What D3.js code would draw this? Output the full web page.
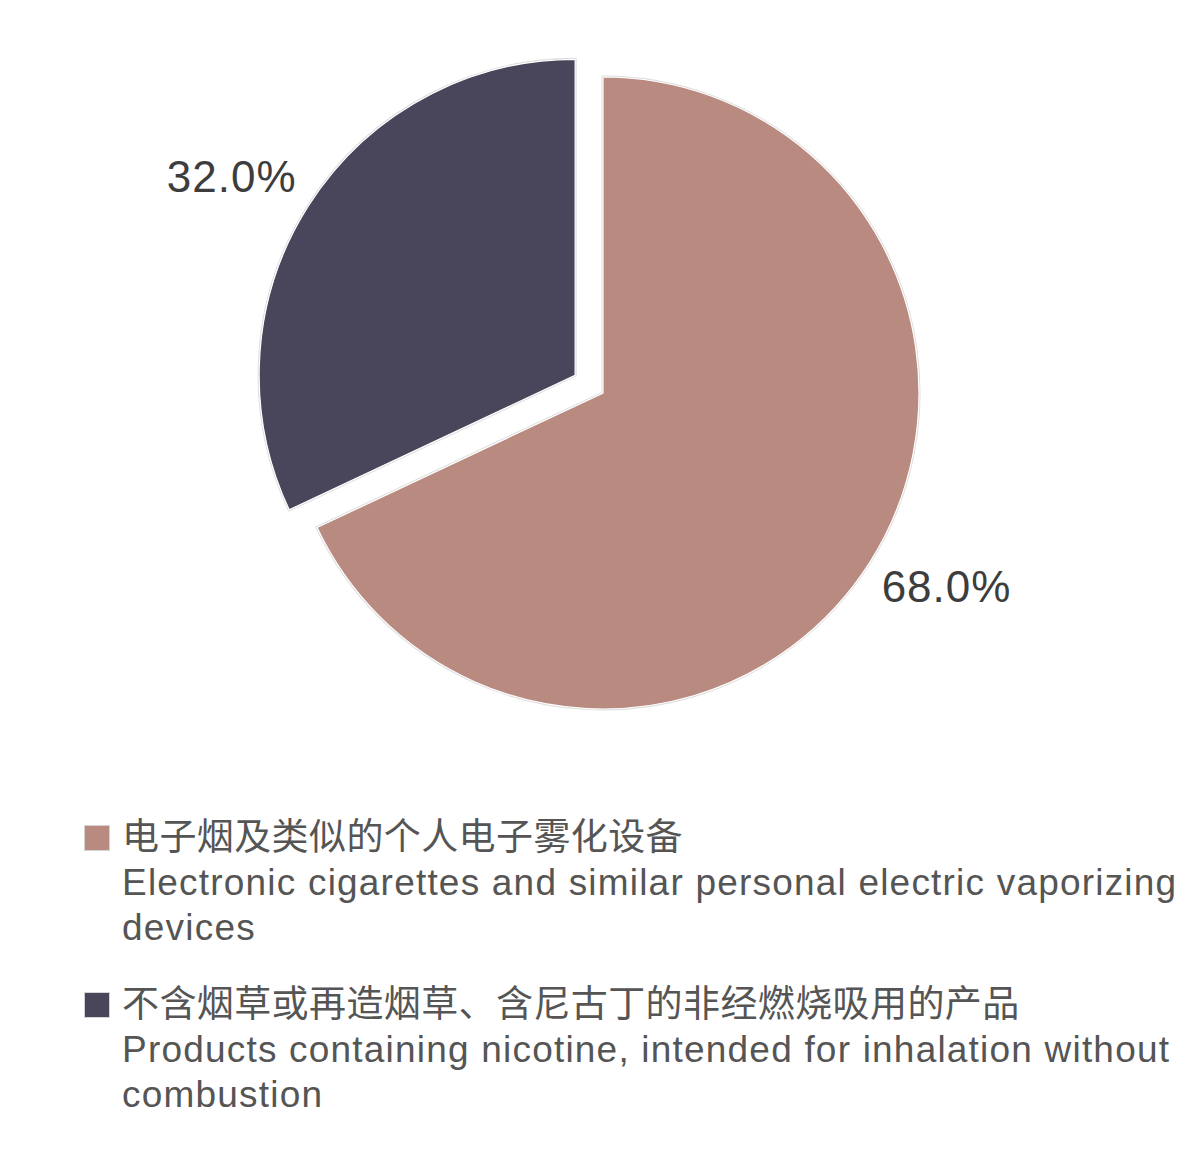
<!DOCTYPE html>
<html>
<head>
<meta charset="utf-8">
<script src="https://cdn.jsdelivr.net/npm/d3@7"></script>
<style>
  html, body { margin: 0; padding: 0; background: #fff; }
  svg text { font-family: "Liberation Sans", "Noto Sans CJK SC", sans-serif; }
</style>
</head>
<body>
<div id="pie-chart"></div>
<script>
// Share of product types (pie, one slice pulled out)
const categories = ["电子烟及类似的个人电子雾化设备", "不含烟草或再造烟草、含尼古丁的非经燃烧吸用的产品"];
const englishLines = [
    ["Electronic cigarettes and similar personal electric vaporizing", "devices"],
    ["Products containing nicotine, intended for inhalation without", "combustion"]
];
const shares = [68.0, 32.0];
const explode = [0, 33];
const colors = ["#b98a80", "#49465c"];

const width = 1200, height = 1168;
const cx = 603, cy = 393, radius = 316;

const svg = d3.select("#pie-chart")
    .append("svg")
    .attr("width", width)
    .attr("height", height);

const data = shares.map((v, i) => ({name: categories[i], value: v, i: i}));

const pie = d3.pie()
    .sort(null)
    .value(d => d.value);

const arcs = pie(data);

const arc = d3.arc()
    .innerRadius(0)
    .outerRadius(radius);

// the slices
const slices = svg.append("g")
    .attr("transform", `translate(${cx},${cy})`)
    .selectAll("g")
    .data(arcs)
    .join("g")
    .attr("transform", d => {
        const mid = (d.startAngle + d.endAngle) / 2;
        const off = explode[d.data.i];
        return `translate(${Math.sin(mid) * off},${-Math.cos(mid) * off})`;
    });

slices.append("path")
    .attr("d", arc)
    .attr("fill", "none")
    .attr("stroke", "#dcdcdc")
    .attr("stroke-width", 3);

slices.append("path")
    .attr("d", arc)
    .attr("fill", d => colors[d.data.i])
    .attr("stroke", "#fff")
    .attr("stroke-width", 1.2);

// percentage labels outside the pie
const labelR = 330;
slices.append("text")
    .attr("x", d => Math.sin((d.startAngle + d.endAngle) / 2) * labelR)
    .attr("y", d => -Math.cos((d.startAngle + d.endAngle) / 2) * labelR)
    .attr("dy", d => -Math.cos((d.startAngle + d.endAngle) / 2) > 0 ? "0.72em" : "-0.15em")
    .attr("text-anchor", d => Math.sin((d.startAngle + d.endAngle) / 2) > 0 ? "start" : "end")
    .style("font-size", "44px")
    .style("letter-spacing", "1px")
    .style("fill", "#3d3d3d")
    .text(d => d.data.value.toFixed(1) + "%");

// legend
const legendTop = 825, groupGap = 167, lineH = 45;
const legend = svg.append("g")
    .selectAll("g")
    .data(data)
    .join("g")
    .attr("transform", (d, i) => `translate(0,${legendTop + i * groupGap})`);

legend.append("rect")
    .attr("x", 84.5)
    .attr("y", 0.5)
    .attr("width", 25)
    .attr("height", 25)
    .attr("fill", d => colors[d.i])
    .attr("stroke", "#d4d4d4")
    .attr("stroke-width", 1);

legend.append("text")
    .attr("x", 122)
    .attr("y", 25)
    .style("font-size", "37px")
    .style("letter-spacing", "0.4px")
    .style("fill", "#555")
    .text(d => d.name);

legend.each(function (d) {
    d3.select(this).selectAll("text.en")
        .data(englishLines[d.i])
        .join("text")
        .attr("class", "en")
        .attr("x", 122)
        .attr("y", (t, j) => 70 + j * lineH)
        .style("font-size", "37px")
        .style("letter-spacing", "1.2px")
        .style("fill", "#555")
        .text(t => t);
});
</script>
</body>
</html>
